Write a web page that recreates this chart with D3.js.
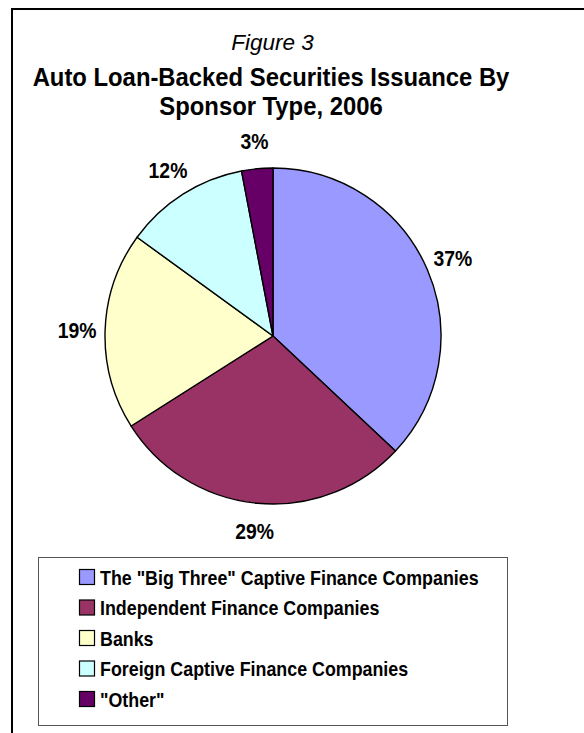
<!DOCTYPE html>
<html>
<head>
<meta charset="utf-8">
<script src="https://cdn.jsdelivr.net/npm/d3@7/dist/d3.min.js"></script>
<style>
  html, body { margin: 0; padding: 0; background: #fff; }
  svg { display: block; }
  .narrow { font-family: "Liberation Sans", Arial, sans-serif; font-weight: bold; }
</style>
</head>
<body>
<svg id="chart" width="584" height="733"></svg>
<script>
// Sponsor types and their share of 2006 auto loan-backed issuance (%)
const categories = [
  'The "Big Three" Captive Finance Companies',
  'Independent Finance Companies',
  'Banks',
  'Foreign Captive Finance Companies',
  '"Other"'
];
const shares = [37, 29, 19, 12, 3];
const sliceColors = ["#9999FF", "#993366", "#FFFFCC", "#CCFFFF", "#660066"];

const svg = d3.select("#chart");
const W = 584, H = 733;

// condensed bold face: regular bold squeezed horizontally
const narrowTransform = (x, y, sx) => `translate(${x},${y}) scale(${sx},1)`;

// frame: top and left rules only
svg.append("path")
  .attr("d", `M12,${H} L12,9 L${W},9`)
  .attr("fill", "none")
  .attr("stroke", "#000")
  .attr("stroke-width", 2);

// titles
svg.append("text")
  .attr("x", 272.5).attr("y", 50)
  .attr("text-anchor", "middle")
  .style("font-family", "'Liberation Sans', Arial, sans-serif")
  .style("font-style", "italic")
  .style("font-size", "22.5px")
  .text("Figure 3");

const titleLines = ["Auto Loan-Backed Securities Issuance By", "Sponsor Type, 2006"];
svg.append("g").selectAll("text")
  .data(titleLines)
  .join("text")
  .attr("class", "narrow")
  .attr("transform", (d, i) => narrowTransform(271, 86 + i * 29, 0.9))
  .attr("text-anchor", "middle")
  .style("font-size", "26.5px")
  .text(d => d);

// pie
const cx = 273, cy = 336, R = 168;
const color = d3.scaleOrdinal().domain(categories).range(sliceColors);
const pie = d3.pie().sort(null).value(d => d.value);
const arcs = pie(categories.map((c, i) => ({ name: c, value: shares[i] })));
const arc = d3.arc().innerRadius(0).outerRadius(R);
const labelArc = d3.arc().innerRadius(196).outerRadius(196);

const g = svg.append("g").attr("transform", `translate(${cx},${cy})`);
g.selectAll("path.slice")
  .data(arcs)
  .join("path")
  .attr("class", "slice")
  .attr("d", arc)
  .attr("fill", d => color(d.data.name))
  .attr("stroke", "#000")
  .attr("stroke-width", 1.4)
  .attr("stroke-linejoin", "round");

g.selectAll("text.pct")
  .data(arcs)
  .join("text")
  .attr("class", "pct narrow")
  .attr("transform", d => {
    const [x, y] = labelArc.centroid(d);
    return narrowTransform(x, y, 0.88);
  })
  .attr("text-anchor", "middle")
  .attr("dominant-baseline", "central")
  .style("font-size", "22px")
  .text(d => d.data.value + "%");

// legend
const lx = 38, ly = 557, lw = 469, lh = 168;
svg.append("rect")
  .attr("x", lx + 0.5).attr("y", ly + 0.5)
  .attr("width", lw).attr("height", lh)
  .attr("fill", "#fff")
  .attr("stroke", "#555")
  .attr("stroke-width", 1);

const rowY = d3.scalePoint().domain(categories).range([ly + 20, ly + 142]);
const items = svg.append("g").selectAll("g")
  .data(categories)
  .join("g")
  .attr("transform", d => `translate(${lx + 41},${rowY(d)})`);
items.append("rect")
  .attr("x", 0.5).attr("y", -7.5)
  .attr("width", 15).attr("height", 15)
  .attr("fill", d => color(d))
  .attr("stroke", "#000")
  .attr("stroke-width", 1.2);
items.append("text")
  .attr("class", "narrow")
  .attr("transform", narrowTransform(21, 0, 0.85))
  .attr("dominant-baseline", "central")
  .style("font-size", "21px")
  .text(d => d);
</script>
</body>
</html>
